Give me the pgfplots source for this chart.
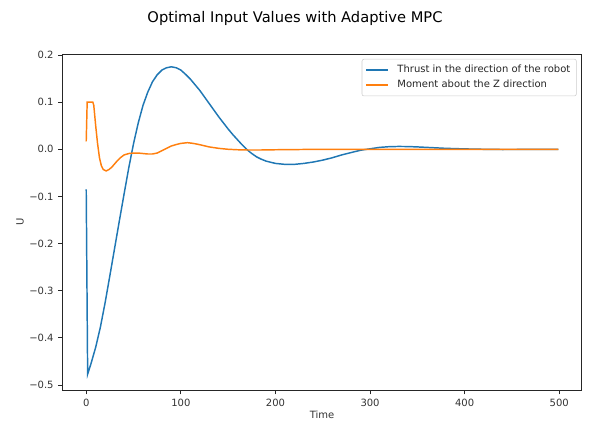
\documentclass[border=0pt]{standalone}
\usepackage{pgfplots}
\pgfplotsset{compat=1.18}
\usepackage{fontspec}
\setmainfont{DejaVu Sans}
\definecolor{c0}{HTML}{1F77B4}
\definecolor{c1}{HTML}{FF7F0E}
\begin{document}
\begin{tikzpicture}[x=1pt,y=1pt]
\useasboundingbox (-47pt,-26.25pt) rectangle (395.5pt,292.5pt);
\begin{axis}[at={(0pt,0pt)},anchor=south west, scale only axis,
  width=389.2pt, height=252pt,
  xmin=-24.9, xmax=523.6, ymin=-0.5106, ymax=0.2021,
  xtick={0,100,200,300,400,500},
  ytick={-0.5,-0.4,-0.3,-0.2,-0.1,0,0.1,0.2},
  yticklabels={−0.5,−0.4,−0.3,−0.2,−0.1,0.0,0.1,0.2},
  /pgf/number format/assume math mode=true,
  tick align=outside, tick pos=left, major tick length=3.3pt,
  tick style={black!85, line width=0.6pt},
  axis line style={black!85, line width=0.6pt},
  ticklabel style={font=\fontsize{7.5}{8}\selectfont, text=black!80},
  legend style={at={(0.9904,0.9854)}, anchor=north east, draw=black!20, rounded corners=1.5pt,
    fill=white, font=\fontsize{7.5}{8.5}\selectfont, text=black!85, row sep=0.2pt, inner sep=2.5pt},
  legend cell align=left,
]
\addplot[c0, line width=1.1pt,
  legend image code/.code={\draw[c0, line width=1.1pt] (0pt,0pt) -- (16.5pt,0pt); \path (21pt,0pt);}] coordinates {
(0,-0.085) (1.5,-0.477) (5,-0.455) (10,-0.42) (15,-0.377) (20,-0.325) (25,-0.268)
(30,-0.21) (35,-0.152) (40,-0.095) (45,-0.039) (50,0.012) (55,0.056) (60,0.093)
(65,0.121) (70,0.143) (75,0.158) (80,0.168) (85,0.173) (90,0.175) (95,0.173)
(100,0.168) (105,0.159) (110,0.149) (115,0.137) (120,0.125) (125,0.111) (130,0.097)
(135,0.083) (140,0.069) (145,0.056) (150,0.043) (155,0.031) (160,0.020) (165,0.009)
(170,-0.001) (175,-0.009) (180,-0.016) (185,-0.021) (190,-0.025) (200,-0.030)
(210,-0.032) (220,-0.032) (230,-0.030) (240,-0.027) (250,-0.023) (260,-0.018)
(270,-0.012) (280,-0.007) (290,-0.002) (300,0.001) (310,0.004) (320,0.0055)
(330,0.006) (340,0.0058) (350,0.005) (360,0.004) (380,0.002) (400,0.0008)
(420,0.0) (440,-0.0005) (460,-0.0004) (480,-0.0002) (499,0.0)
};
\addlegendentry{Thrust in the direction of the robot}
\addplot[c1, line width=1.1pt,
  legend image code/.code={\draw[c1, line width=1.1pt] (0pt,0pt) -- (16.5pt,0pt); \path (21pt,0pt);}] coordinates {
(0,0.017) (1,0.1) (7,0.1) (8,0.093) (10,0.05) (12,0.012) (14,-0.018) (16,-0.035)
(18,-0.043) (21,-0.046) (24,-0.043) (27,-0.038) (30,-0.031) (33,-0.024) (36,-0.018)
(40,-0.012) (45,-0.009) (50,-0.008) (55,-0.008) (60,-0.009) (65,-0.010) (70,-0.010)
(75,-0.008) (80,-0.003) (85,0.002) (90,0.007) (95,0.010) (100,0.0125) (107,0.014)
(112,0.0128) (117,0.011) (122,0.0088) (130,0.005) (140,0.002) (150,0.0) (160,-0.001)
(170,-0.0015) (185,-0.0015) (200,-0.001) (225,-0.0005) (250,0.0) (300,0.0) (400,0.0) (499,0.0)
};
\addlegendentry{Moment about the Z direction}
\end{axis}
\node[text=black!80] at (194.6pt,-18.75pt) {\fontsize{7.5}{8}\selectfont Time};
\node[text=black!80, rotate=90] at (-32pt,126pt) {\fontsize{7.5}{8}\selectfont U};
\node at (174.25pt,278.5pt) {\fontsize{11}{13}\selectfont Optimal Input Values with Adaptive MPC};
\end{tikzpicture}
\end{document}
